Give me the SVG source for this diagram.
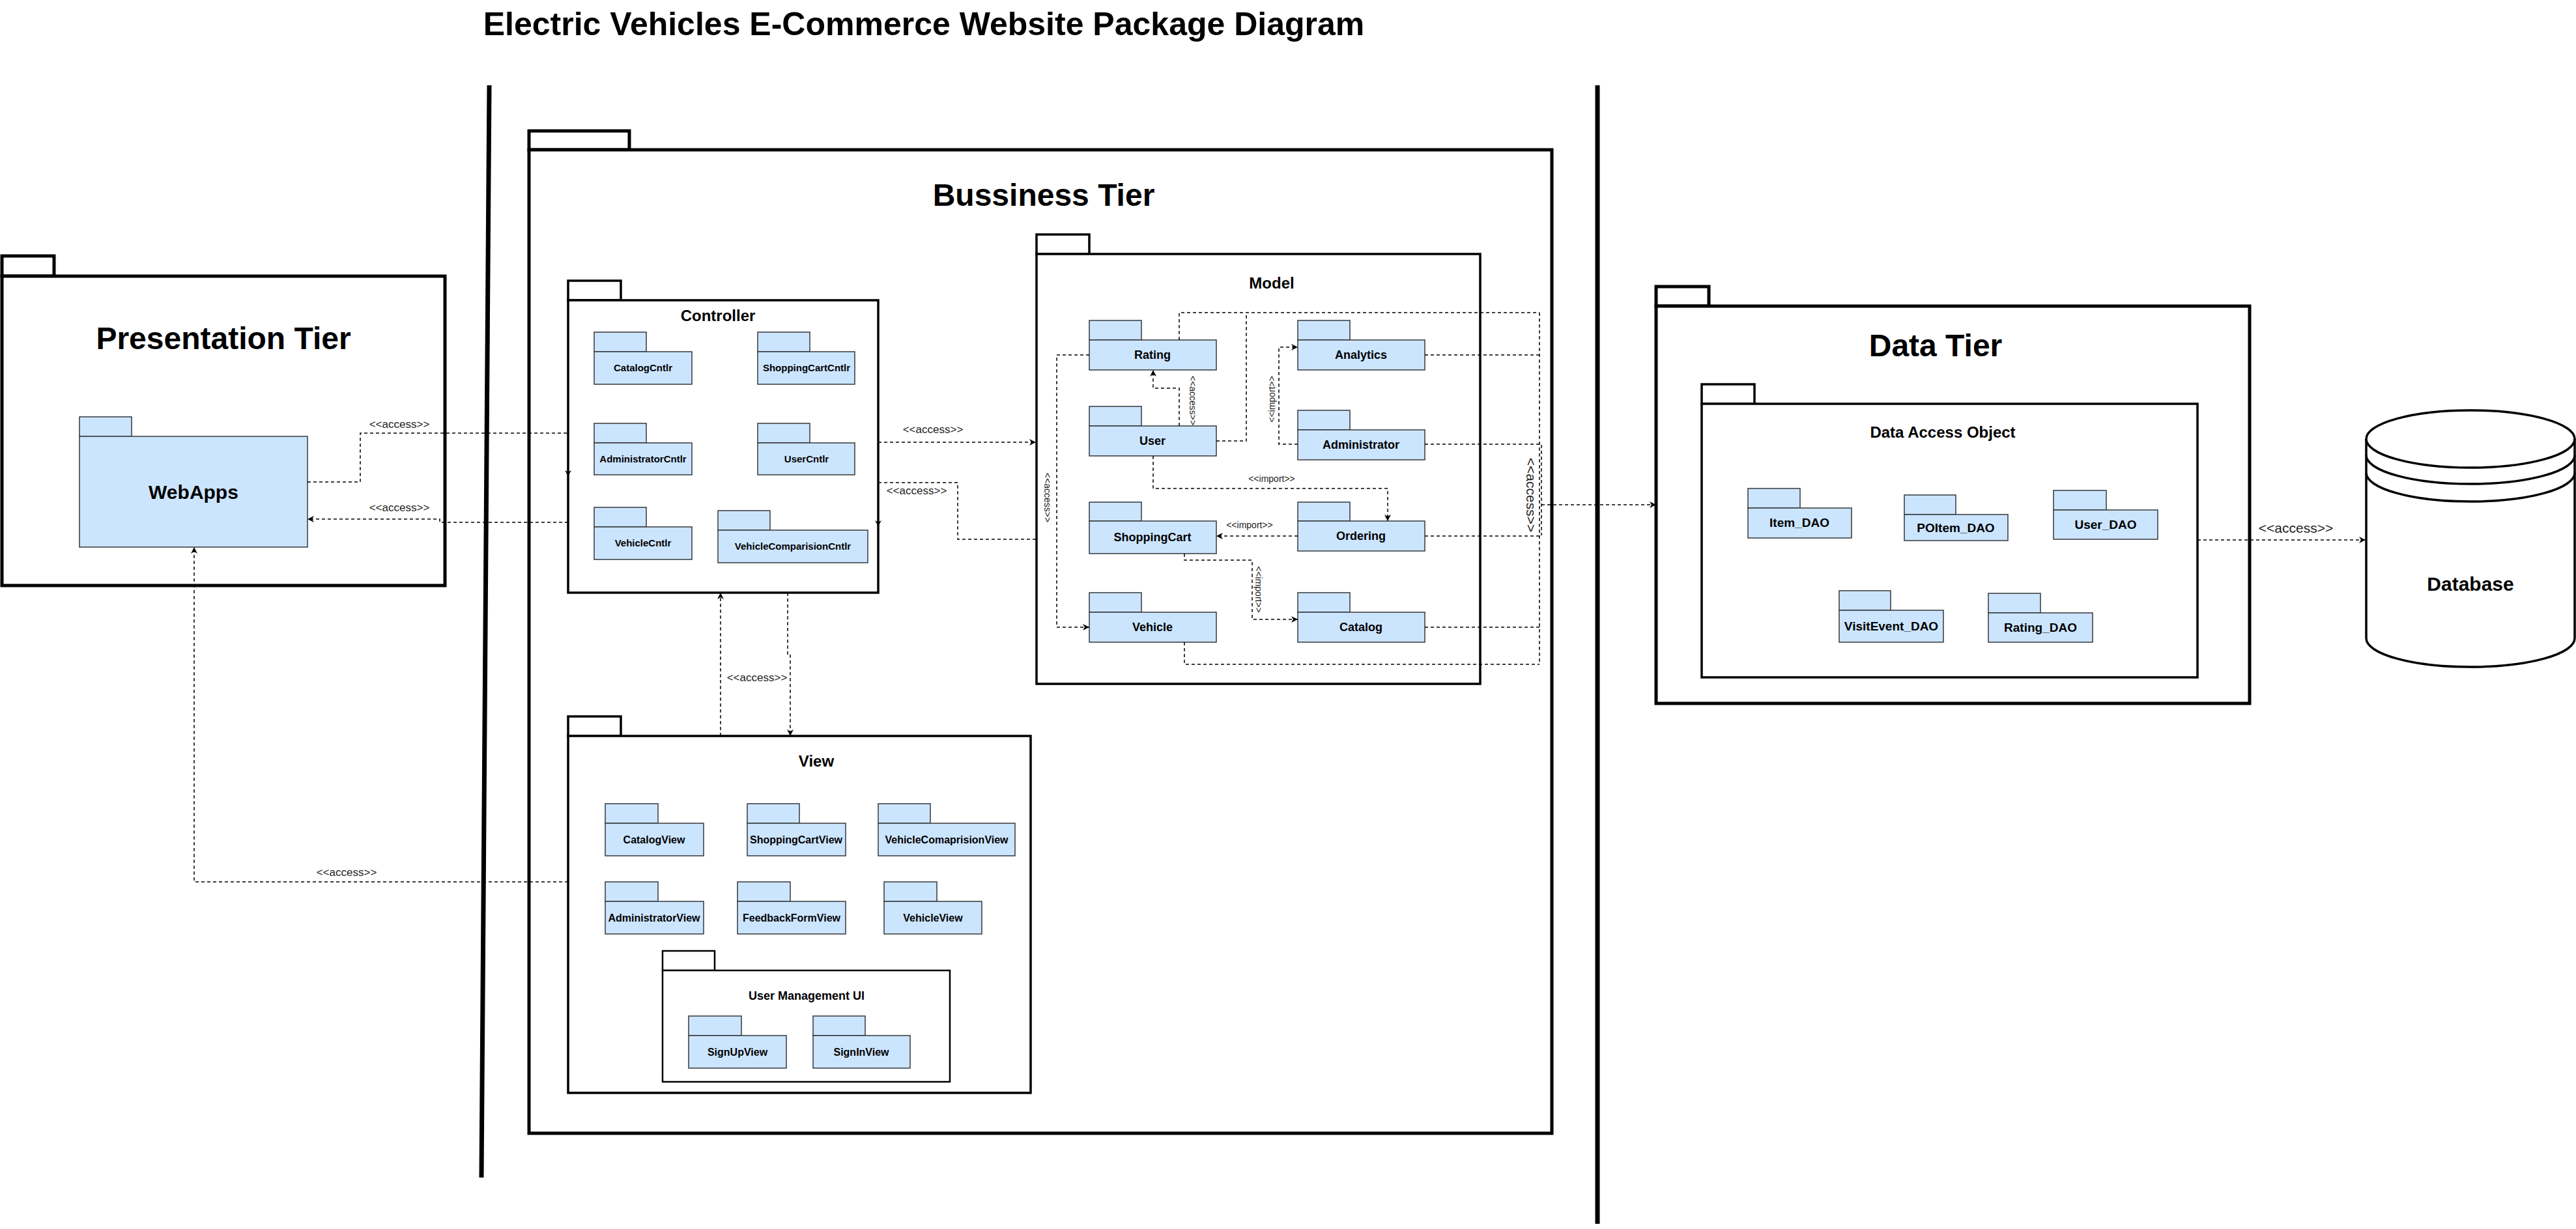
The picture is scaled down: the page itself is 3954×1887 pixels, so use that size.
<svg xmlns="http://www.w3.org/2000/svg" width="3954" height="1887" viewBox="0 0 3954 1887">
<style>
text{font-family:"Liberation Sans",Arial,Helvetica,sans-serif;fill:#000;}
.tier{fill:#fff;stroke:#000;stroke-width:5;}
.grp{fill:#fff;stroke:#000;stroke-width:3.5;}
.grp2{fill:#fff;stroke:#000;stroke-width:2.5;}
.pkg{fill:#cce5ff;stroke:#36393d;stroke-width:1.5;}
.sep{stroke:#000;stroke-width:7;fill:none;}
.big{font-size:48px;font-weight:bold;text-anchor:middle;}
.mid{font-size:24px;font-weight:bold;text-anchor:middle;}
.c{font-size:15px;font-weight:bold;text-anchor:middle;}
.m{font-size:18px;font-weight:bold;text-anchor:middle;}
.v{font-size:16px;font-weight:bold;text-anchor:middle;}
.d{font-size:19px;font-weight:bold;text-anchor:middle;}
.conn path{fill:none;stroke:#000;stroke-width:1.5;stroke-dasharray:5 4;}
.lbl{font-size:17px;text-anchor:middle;fill:#222;}
.lbs{font-size:14px;text-anchor:middle;fill:#222;}
.lbb{font-size:21px;text-anchor:middle;fill:#222;}
</style>
<defs>
<marker id="arr" viewBox="0 0 10 10" refX="10" refY="5" markerWidth="11" markerHeight="10" markerUnits="userSpaceOnUse" orient="auto">
<path d="M0,0 L10,5 L0,10 L3,5 z" fill="#000"/>
</marker>
</defs>
<rect width="3954" height="1887" fill="#fff"/>

<text x="1418" y="54" style="font-size:50px;font-weight:bold;text-anchor:middle;">Electric Vehicles E-Commerce Website Package Diagram</text>

<g id="separators">
<path class="sep" d="M751,131 L739,1808"/>
<path class="sep" d="M2452,131 V1879"/>
</g>

<g id="presentation-tier">
<rect class="tier" x="3" y="393" width="80" height="31"/>
<rect class="tier" x="3" y="424" width="680" height="475"/>
<text class="big" x="343" y="536">Presentation Tier</text>
</g>
<g id="webapps">
<rect class="pkg" x="122" y="640" width="80" height="30"/>
<rect class="pkg" x="122" y="670" width="350" height="170"/>
<text x="297" y="766" style="font-size:30px;font-weight:bold;text-anchor:middle;">WebApps</text>
</g>

<g id="business-tier">
<rect class="tier" x="812" y="201" width="154" height="29"/>
<rect class="tier" x="812" y="230" width="1570" height="1510"/>
<text class="big" x="1602" y="316">Bussiness Tier</text>
</g>

<g id="controller">
<rect class="grp" x="872" y="431" width="81" height="30"/>
<rect class="grp" x="872" y="461" width="476" height="449"/>
<text class="mid" x="1102" y="493">Controller</text>
</g>
<g id="catalog-cntlr"><rect class="pkg" x="912" y="510" width="80" height="30"/><rect class="pkg" x="912" y="540" width="150" height="50"/><text class="c" x="987" y="570">CatalogCntlr</text></g>
<g id="shoppingcart-cntlr"><rect class="pkg" x="1163" y="510" width="80" height="30"/><rect class="pkg" x="1163" y="540" width="149" height="50"/><text class="c" x="1238" y="570">ShoppingCartCntlr</text></g>
<g id="administrator-cntlr"><rect class="pkg" x="912" y="650" width="80" height="30"/><rect class="pkg" x="912" y="680" width="150" height="49"/><text class="c" x="987" y="710">AdministratorCntlr</text></g>
<g id="user-cntlr"><rect class="pkg" x="1163" y="650" width="80" height="30"/><rect class="pkg" x="1163" y="680" width="149" height="49"/><text class="c" x="1238" y="710">UserCntlr</text></g>
<g id="vehicle-cntlr"><rect class="pkg" x="912" y="779" width="80" height="30"/><rect class="pkg" x="912" y="809" width="150" height="50"/><text class="c" x="987" y="839">VehicleCntlr</text></g>
<g id="vehiclecomparision-cntlr"><rect class="pkg" x="1102" y="784" width="80" height="30"/><rect class="pkg" x="1102" y="814" width="230" height="50"/><text class="c" x="1217" y="844">VehicleComparisionCntlr</text></g>

<g id="model">
<rect class="grp" x="1591" y="360" width="81" height="30"/>
<rect class="grp" x="1591" y="390" width="681" height="660"/>
<text class="mid" x="1952" y="443">Model</text>
</g>
<g id="rating"><rect class="pkg" x="1672" y="492" width="80" height="30"/><rect class="pkg" x="1672" y="522" width="195" height="46"/><text class="m" x="1769" y="551">Rating</text></g>
<g id="user"><rect class="pkg" x="1672" y="624" width="80" height="30"/><rect class="pkg" x="1672" y="654" width="195" height="46"/><text class="m" x="1769" y="683">User</text></g>
<g id="analytics"><rect class="pkg" x="1992" y="492" width="80" height="30"/><rect class="pkg" x="1992" y="522" width="195" height="46"/><text class="m" x="2089" y="551">Analytics</text></g>
<g id="administrator"><rect class="pkg" x="1992" y="630" width="80" height="30"/><rect class="pkg" x="1992" y="660" width="195" height="46"/><text class="m" x="2089" y="689">Administrator</text></g>
<g id="shoppingcart"><rect class="pkg" x="1672" y="771" width="80" height="29"/><rect class="pkg" x="1672" y="800" width="195" height="50"/><text class="m" x="1769" y="831">ShoppingCart</text></g>
<g id="ordering"><rect class="pkg" x="1992" y="771" width="80" height="29"/><rect class="pkg" x="1992" y="800" width="195" height="46"/><text class="m" x="2089" y="829">Ordering</text></g>
<g id="vehicle"><rect class="pkg" x="1672" y="910" width="80" height="30"/><rect class="pkg" x="1672" y="940" width="195" height="46"/><text class="m" x="1769" y="969">Vehicle</text></g>
<g id="catalog"><rect class="pkg" x="1992" y="910" width="80" height="30"/><rect class="pkg" x="1992" y="940" width="195" height="46"/><text class="m" x="2089" y="969">Catalog</text></g>

<g id="view">
<rect class="grp" x="872" y="1100" width="81" height="30"/>
<rect class="grp" x="872" y="1130" width="710" height="548"/>
<text class="mid" x="1253" y="1177">View</text>
</g>
<g id="catalog-view"><rect class="pkg" x="929" y="1234" width="81" height="30"/><rect class="pkg" x="929" y="1264" width="151" height="50"/><text class="v" x="1004" y="1295">CatalogView</text></g>
<g id="shoppingcart-view"><rect class="pkg" x="1147" y="1234" width="80" height="30"/><rect class="pkg" x="1147" y="1264" width="151" height="50"/><text class="v" x="1222" y="1295">ShoppingCartView</text></g>
<g id="vehiclecomaprision-view"><rect class="pkg" x="1348" y="1234" width="80" height="30"/><rect class="pkg" x="1348" y="1264" width="210" height="50"/><text class="v" x="1453" y="1295">VehicleComaprisionView</text></g>
<g id="administrator-view"><rect class="pkg" x="929" y="1354" width="81" height="30"/><rect class="pkg" x="929" y="1384" width="151" height="50"/><text class="v" x="1004" y="1415">AdministratorView</text></g>
<g id="feedbackform-view"><rect class="pkg" x="1132" y="1354" width="81" height="30"/><rect class="pkg" x="1132" y="1384" width="166" height="50"/><text class="v" x="1215" y="1415">FeedbackFormView</text></g>
<g id="vehicle-view"><rect class="pkg" x="1357" y="1354" width="81" height="30"/><rect class="pkg" x="1357" y="1384" width="150" height="50"/><text class="v" x="1432" y="1415">VehicleView</text></g>
<g id="user-management-ui">
<rect class="grp2" x="1017" y="1460" width="80" height="30"/>
<rect class="grp2" x="1017" y="1490" width="441" height="171"/>
<text class="m" x="1238" y="1535">User Management UI</text>
</g>
<g id="signup-view"><rect class="pkg" x="1057" y="1560" width="81" height="30"/><rect class="pkg" x="1057" y="1590" width="150" height="50"/><text class="v" x="1132" y="1621">SignUpView</text></g>
<g id="signin-view"><rect class="pkg" x="1248" y="1560" width="80" height="30"/><rect class="pkg" x="1248" y="1590" width="149" height="50"/><text class="v" x="1322" y="1621">SignInView</text></g>

<g id="data-tier">
<rect class="tier" x="2542" y="440" width="81" height="30"/>
<rect class="tier" x="2542" y="470" width="911" height="610"/>
<text class="big" x="2971" y="547">Data Tier</text>
</g>
<g id="data-access-object">
<rect class="grp" x="2612" y="590" width="81" height="30"/>
<rect class="grp" x="2612" y="620" width="761" height="420"/>
<text class="mid" x="2982" y="672">Data Access Object</text>
</g>
<g id="item-dao"><rect class="pkg" x="2683" y="750" width="80" height="30"/><rect class="pkg" x="2683" y="780" width="159" height="46"/><text class="d" x="2762" y="809">Item_DAO</text></g>
<g id="poitem-dao"><rect class="pkg" x="2923" y="760" width="79" height="30"/><rect class="pkg" x="2923" y="790" width="159" height="40"/><text class="d" x="3002" y="817">POItem_DAO</text></g>
<g id="user-dao"><rect class="pkg" x="3152" y="753" width="81" height="30"/><rect class="pkg" x="3152" y="783" width="160" height="45"/><text class="d" x="3232" y="812">User_DAO</text></g>
<g id="visitevent-dao"><rect class="pkg" x="2823" y="907" width="79" height="30"/><rect class="pkg" x="2823" y="937" width="160" height="49"/><text class="d" x="2903" y="968">VisitEvent_DAO</text></g>
<g id="rating-dao"><rect class="pkg" x="3052" y="911" width="80" height="30"/><rect class="pkg" x="3052" y="941" width="160" height="45"/><text class="d" x="3132" y="970">Rating_DAO</text></g>

<g id="database">
<path d="M3632,674 V980 A160,44 0 0 0 3952,980 V674" fill="#fff" stroke="#000" stroke-width="3.5"/>
<ellipse cx="3792" cy="674" rx="160" ry="44" fill="#fff" stroke="#000" stroke-width="3.5"/>
<path d="M3632,699 A160,44 0 0 0 3952,699 M3632,726 A160,44 0 0 0 3952,726" fill="none" stroke="#000" stroke-width="3.5"/>
<text x="3792" y="907" style="font-size:30px;font-weight:bold;text-anchor:middle;">Database</text>
</g>

<g id="connectors" class="conn">
<path d="M472,740 H553 V665 H872"/>
<path d="M872,802 H675 V797 H472" marker-end="url(#arr)"/>
<path d="M1348,679 H1590" marker-end="url(#arr)"/>
<path d="M1348,741 H1470 V828 H1590"/>
<path d="M1810,522 V480 H2363"/>
<path d="M1867,677 H1913 V480"/>
<path d="M1810,654 V596 H1770 V568" marker-end="url(#arr)"/>
<path d="M1992,682 H1963 V533 H1992" marker-end="url(#arr)"/>
<path d="M2187,545 H2363"/>
<path d="M2187,682 H2363"/>
<path d="M1770,700 V750 H2130 V800" marker-end="url(#arr)"/>
<path d="M1992,823 H1867" marker-end="url(#arr)"/>
<path d="M1818,850 V860 H1922 V951 H1992" marker-end="url(#arr)"/>
<path d="M1672,545 H1622 V963 H1672" marker-end="url(#arr)"/>
<path d="M2187,823 H2363"/>
<path d="M2187,963 H2363"/>
<path d="M1818,986 V1020 H2363"/>
<path d="M2363,480 V1020"/>
<path d="M2366,683 V822"/>
<path d="M2366,775 H2542" marker-end="url(#arr)"/>
<path d="M3373,829 H3631" marker-end="url(#arr)"/>
<path d="M1106,1130 V910" marker-end="url(#arr)"/>
<path d="M1209,910 V1005 H1213 V1130" marker-end="url(#arr)"/>
<path d="M872,1354 H298 V840" marker-end="url(#arr)"/>
</g>
<g id="hidden-arrowheads" fill="#000">
<path d="M867,722 L872,731 L877,722 L872,725 z"/>
<path d="M1343,799 L1348,808 L1353,799 L1348,802 z"/>
</g>

<g id="connector-labels">
<text class="lbl" x="613" y="657">&lt;&lt;access&gt;&gt;</text>
<text class="lbl" x="613" y="785">&lt;&lt;access&gt;&gt;</text>
<text class="lbl" x="1432" y="665">&lt;&lt;access&gt;&gt;</text>
<text class="lbl" x="1407" y="759">&lt;&lt;access&gt;&gt;</text>
<text class="lbl" x="1162" y="1046">&lt;&lt;access&gt;&gt;</text>
<text class="lbl" x="532" y="1345">&lt;&lt;access&gt;&gt;</text>
<text class="lbs" x="1952" y="740">&lt;&lt;import&gt;&gt;</text>
<text class="lbs" x="1918" y="811">&lt;&lt;import&gt;&gt;</text>
<text class="lbs" transform="translate(1826,615) rotate(90)" y="0">&lt;&lt;access&gt;&gt;</text>
<text class="lbs" transform="translate(1957,613) rotate(-90)" y="0">&lt;&lt;import&gt;&gt;</text>
<text class="lbs" transform="translate(1927,905) rotate(90)" y="0">&lt;&lt;import&gt;&gt;</text>
<text class="lbs" transform="translate(1603,764) rotate(90)" y="0">&lt;&lt;access&gt;&gt;</text>
<text class="lbb" transform="translate(2343,760) rotate(90)" y="0">&lt;&lt;access&gt;&gt;</text>
<text class="lbb" x="3524" y="818">&lt;&lt;access&gt;&gt;</text>
</g>
</svg>
